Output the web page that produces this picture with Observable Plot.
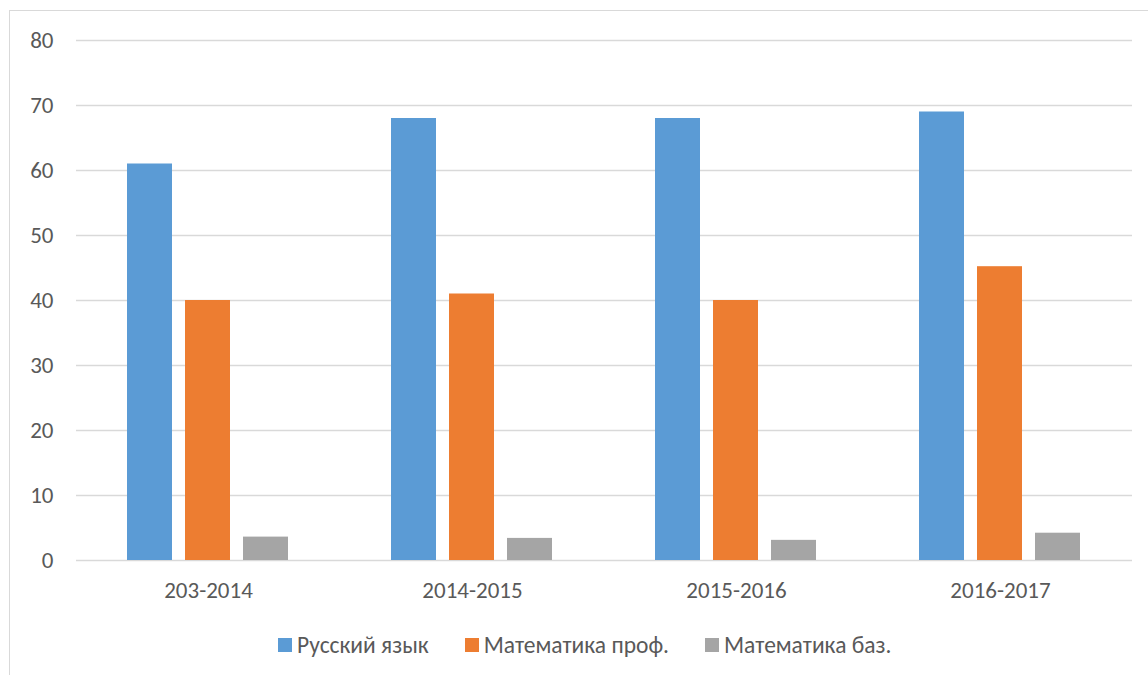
<!DOCTYPE html>
<html>
<head>
<meta charset="utf-8">
<script src="https://cdn.jsdelivr.net/npm/d3@7"></script>
<script src="https://cdn.jsdelivr.net/npm/@observablehq/plot@0.6"></script>
<style>
  html, body { margin: 0; padding: 0; background: #fff; overflow: hidden; }
  body { width: 1148px; height: 675px; position: relative; font-family: Carlito, Calibri, Lato, "Open Sans", sans-serif; }
  #frame { position: absolute; left: 9px; top: 10px; width: 1300px; height: 800px; border: 1.5px solid #d9d9d9; box-sizing: border-box; }
  #chart { position: absolute; left: 0; top: 0; }
  #legend { position: absolute; left: 278px; top: 631px; display: flex; align-items: center; font-size: 23.5px; color: #595959; }
  .item { display: flex; align-items: center; margin-right: 36px; white-space: nowrap; }
  .sw { width: 14px; height: 14px; margin-right: 5px; display: inline-block; }
</style>
</head>
<body>
<div id="frame"></div>
<div id="chart"></div>
<div id="legend"></div>
<script>
const years = ["203-2014", "2014-2015", "2015-2016", "2016-2017"];
const series = ["Русский язык", "Математика проф.", "Математика баз."];
const russian = [61, 68, 68, 69];
const mathProf = [40, 41, 40, 45.2];
const mathBase = [3.6, 3.4, 3.1, 4.2];
const colors = ["#5b9bd5", "#ed7d31", "#a5a5a5"];
const yTicks = [0, 10, 20, 30, 40, 50, 60, 70, 80];

const valuesBySeries = [russian, mathProf, mathBase];
const data = [];
years.forEach((yr, i) => {
  series.forEach((s, j) => {
    data.push({year: yr, series: s, value: valuesBySeries[j][i]});
  });
});

const chart = Plot.plot({
  width: 1148,
  height: 610,
  marginLeft: 74,
  marginRight: 15,
  marginTop: 40,
  marginBottom: 50,
  style: {fontFamily: "Carlito, Calibri, Lato, 'Open Sans', sans-serif", fontSize: "23px", color: "#595959", background: "transparent"},
  fx: {domain: years, padding: 0, label: null, axis: "bottom", tickSize: 0, tickPadding: 21},
  x: {domain: series, axis: null, paddingInner: 0.22, paddingOuter: 0.855},
  y: {domain: [0, 80], ticks: yTicks, axis: null},
  color: {domain: series, range: colors},
  marks: [
    Plot.gridY(yTicks, {stroke: "#d9d9d9", strokeOpacity: 1, strokeWidth: 1.5}),
    Plot.barY(data, {fx: "year", x: "series", y: "value", fill: "series"}),
    Plot.axisY(yTicks, {tickSize: 0, tickPadding: 23, label: null, fill: "#595959"})
  ]
});
document.getElementById("chart").appendChild(chart);

const legend = document.getElementById("legend");
series.forEach((s, j) => {
  const item = document.createElement("div");
  item.className = "item";
  const sw = document.createElement("span");
  sw.className = "sw";
  sw.style.background = colors[j];
  const t = document.createElement("span");
  t.textContent = s;
  item.appendChild(sw);
  item.appendChild(t);
  legend.appendChild(item);
});
</script>
</body>
</html>
